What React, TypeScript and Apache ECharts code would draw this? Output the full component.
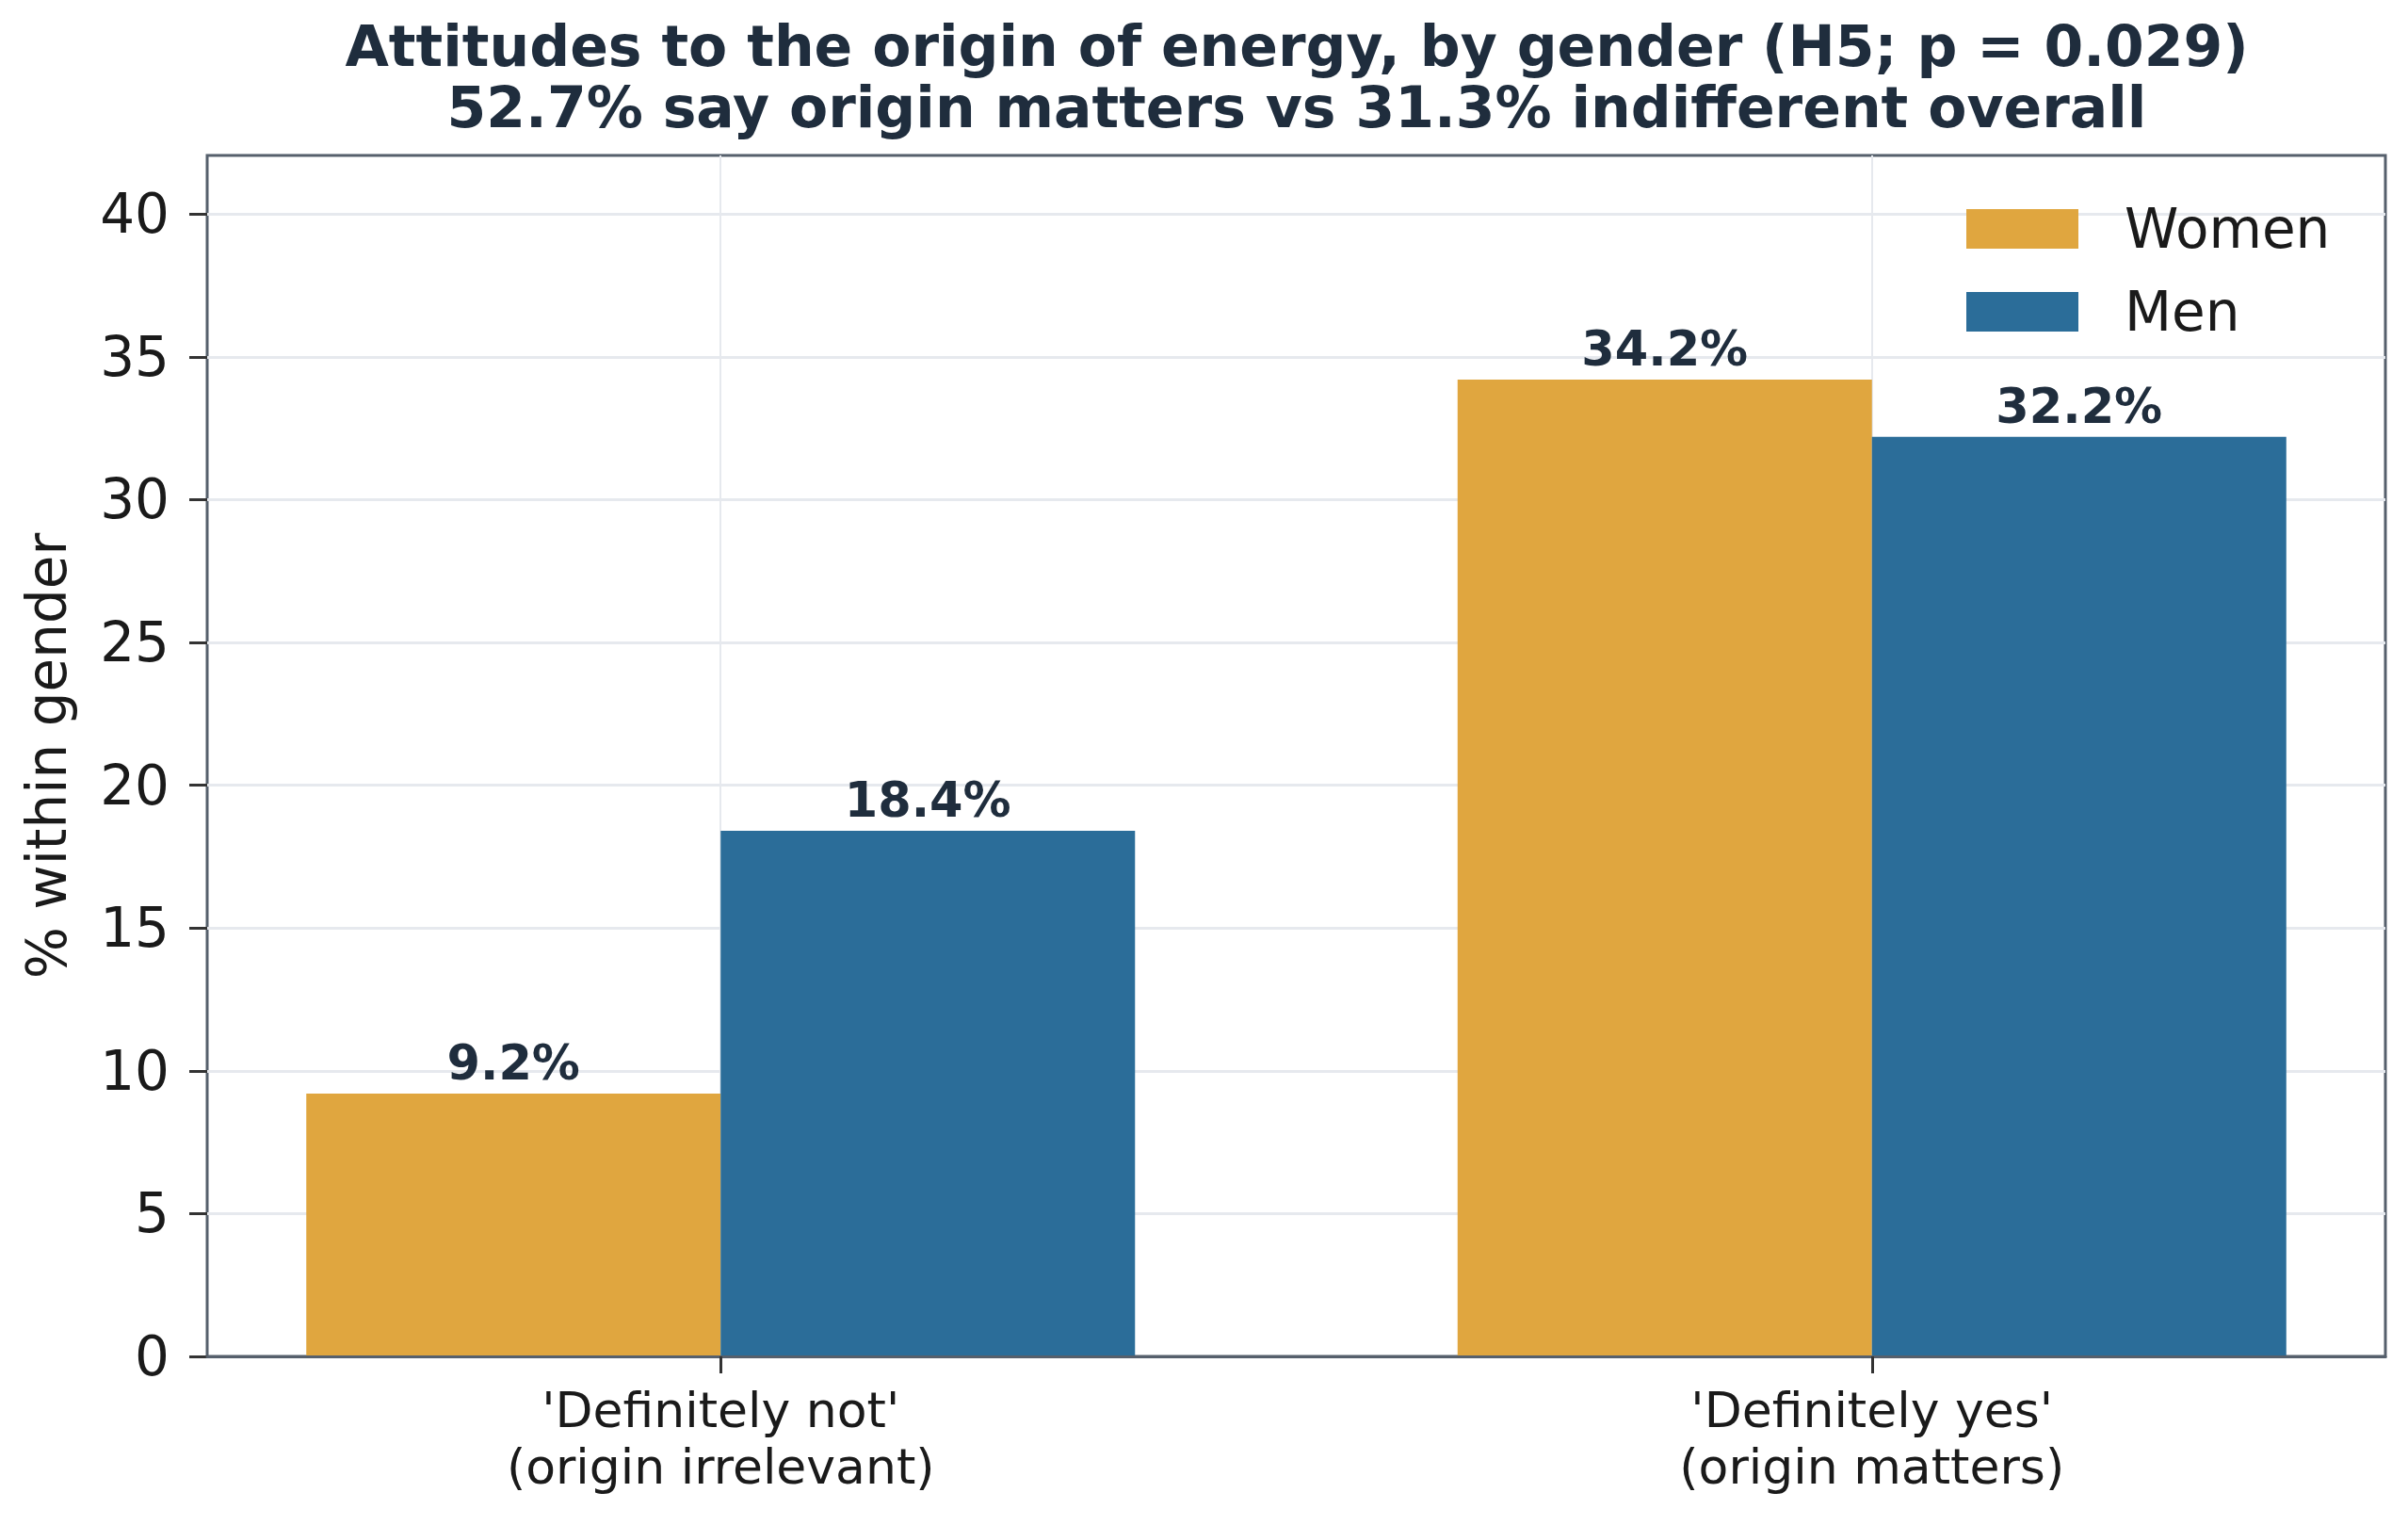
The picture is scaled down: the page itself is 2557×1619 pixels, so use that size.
import { useEffect, useRef } from 'react';
import * as echarts from 'echarts';

const categories = ["'Definitely not'\n(origin irrelevant)", "'Definitely yes'\n(origin matters)"];
const seriesNames = ['Women', 'Men'];
const womenValues = [9.2, 34.2];
const menValues = [18.4, 32.2];
const yTicks = [0, 5, 10, 15, 20, 25, 30, 35, 40];
const titleLines = [
  'Attitudes to the origin of energy, by gender (H5; p = 0.029)',
  '52.7% say origin matters vs 31.3% indifferent overall',
];

const FONT = 'DejaVu Sans';
const INK = '#1f2d3d';
const FRAME = '#56606c';
const GRID = '#e6e9ee';
const WOMEN = '#e0a63f';
const MEN = '#2b6d99';

export default function App() {
  const chartRef = useRef<HTMLDivElement>(null);

  useEffect(() => {
    if (!chartRef.current) return;
    const chart = echarts.init(chartRef.current, null, { renderer: 'svg' });

    const catIdx = categories.map((_, i) => i);
    const barLabel = {
      show: true,
      position: 'top' as const,
      distance: 7,
      fontFamily: FONT,
      fontSize: 51,
      fontWeight: 'bold' as const,
      color: INK,
      formatter: (p: any) => `${Number(p.value[1]).toFixed(1)}%`,
    };

    const option: echarts.EChartsOption = {
      animation: false,
      backgroundColor: '#ffffff',
      textStyle: { fontFamily: FONT },
      grid: {
        left: 220,
        right: 24,
        top: 165,
        bottom: 179,
        show: true,
        borderColor: FRAME,
        borderWidth: 3,
        backgroundColor: 'transparent',
      },
      graphic: titleLines.map((t, i) => ({
        type: 'text',
        x: 1377,
        y: 49 + i * 65,
        style: {
          text: t,
          fill: INK,
          font: `bold 60px "${FONT}"`,
          textAlign: 'center',
          textVerticalAlign: 'middle',
        },
      })),
      legend: {
        data: seriesNames,
        orient: 'vertical',
        left: 2088,
        top: 214,
        padding: 0,
        itemWidth: 119,
        itemHeight: 42,
        itemGap: 30,
        icon: 'rect',
        textStyle: {
          fontFamily: FONT,
          fontSize: 58,
          color: '#1a1a1a',
          padding: [0, 0, 0, 44],
        },
      },
      xAxis: [
        {
          type: 'value',
          min: -0.446,
          max: 1.446,
          position: 'bottom',
          z: 3,
          axisLine: { show: true, onZero: false, lineStyle: { color: FRAME, width: 3 } },
          axisTick: {
            show: true,
            customValues: catIdx,
            length: 18,
            lineStyle: { color: '#333333', width: 3 },
          },
          axisLabel: {
            customValues: catIdx,
            margin: 27,
            fontFamily: FONT,
            fontSize: 52,
            lineHeight: 60,
            color: '#1a1a1a',
            formatter: (v: number) => categories[Math.round(v)] ?? '',
          },
          splitLine: { show: false },
        },
        {
          type: 'value',
          min: -0.446,
          max: 1.446,
          position: 'top',
          axisLine: { show: false, onZero: false },
          axisTick: { show: false, customValues: catIdx },
          axisLabel: { show: false },
          splitLine: { show: true, lineStyle: { color: GRID, width: 2 } },
        },
      ],
      yAxis: {
        type: 'value',
        min: 0,
        max: 42.05,
        position: 'left',
        name: '% within gender',
        nameLocation: 'middle',
        nameGap: 141,
        nameTextStyle: { fontFamily: FONT, fontSize: 58, color: '#1a1a1a' },
        axisLine: { show: false, onZero: false },
        axisTick: {
          show: true,
          customValues: yTicks,
          length: 19,
          lineStyle: { color: '#333333', width: 3 },
        },
        axisLabel: {
          customValues: yTicks,
          margin: 40,
          fontFamily: FONT,
          fontSize: 58,
          color: '#1a1a1a',
        },
        splitLine: { show: true, lineStyle: { color: GRID, width: 3 } },
      },
      series: [
        {
          name: seriesNames[0],
          type: 'bar',
          xAxisIndex: 0,
          barWidth: 440,
          barGap: '0%',
          itemStyle: { color: WOMEN },
          label: barLabel,
          data: womenValues.map((v, i) => [i, v]),
        },
        {
          name: seriesNames[1],
          type: 'bar',
          xAxisIndex: 0,
          barWidth: 440,
          barGap: '0%',
          itemStyle: { color: MEN },
          label: barLabel,
          data: menValues.map((v, i) => [i, v]),
        },
      ],
    };

    chart.setOption(option);
    return () => chart.dispose();
  }, []);

  return (
    <div
      ref={chartRef}
      style={{ position: 'fixed', left: 0, top: 0, width: 2557, height: 1619 }}
    />
  );
}
